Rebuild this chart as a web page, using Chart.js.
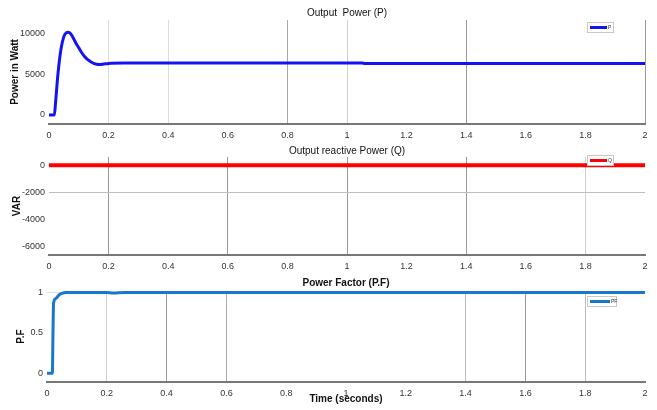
<!DOCTYPE html>
<html>
<head>
<meta charset="utf-8">
<script src="https://cdn.jsdelivr.net/npm/chart.js@4.4.1/dist/chart.umd.min.js"></script>
<style>
  body { margin: 0; background: #fff; width: 657px; height: 410px; position: relative; overflow: hidden; }
  .panel { position: absolute; left: 0; width: 657px; }
</style>
</head>
<body>
<div class="panel" style="top:0;height:142px"><canvas id="pChart"></canvas></div>
<div class="panel" style="top:142px;height:131px"><canvas id="qChart"></canvas></div>
<div class="panel" style="top:273px;height:137px"><canvas id="pfChart"></canvas></div>
<script>
// time axis (seconds)
const timeTicks = [0, 0.2, 0.4, 0.6, 0.8, 1, 1.2, 1.4, 1.6, 1.8, 2];

// output power P (W)
const timeP = [0, 0.018, 0.022, 0.03, 0.04, 0.05, 0.058, 0.065, 0.072, 0.08, 0.09, 0.1, 0.11,
  0.12, 0.13, 0.14, 0.15, 0.16, 0.17, 0.18, 0.2, 0.25, 1.05, 1.06, 2];
const powerP = [0, 0, 1500, 5000, 8000, 9600, 10050, 10100, 9950, 9500, 8800, 8200, 7600,
  7100, 6750, 6500, 6300, 6200, 6180, 6200, 6300, 6350, 6350, 6300, 6300];
const pTicks = [0, 5000, 10000];

// reactive power Q (VAR)
const timeQ = [0, 0.5, 1, 1.5, 2];
const reactiveQ = [0, 0, 0, 0, 0];
const qTicks = [-6000, -4000, -2000, 0];

// power factor
const timePF = [0, 0.018, 0.02, 0.022, 0.03, 0.04, 0.05, 0.065, 0.2, 0.22, 0.26, 2];
const powerFactor = [0, 0, 0.5, 0.87, 0.93, 0.97, 0.99, 1, 1, 0.995, 1, 1];
const pfTicks = [0, 0.5, 1];

const FONT = "'Liberation Sans', Arial, sans-serif";

// little legend box in the top right corner, like the scope legend
const boxLegend = {
  id: "boxLegend",
  afterDraw(chart, args, o) {
    const { ctx, chartArea } = chart;
    const ds = chart.data.datasets[0];
    const x = chartArea.right - o.dx;
    const y = chartArea.top + o.dy;
    ctx.save();
    ctx.fillStyle = "#fff";
    ctx.fillRect(x, y, o.w, 10);
    ctx.strokeStyle = "#c8c8c8";
    ctx.lineWidth = 1;
    ctx.strokeRect(x + 0.5, y + 0.5, o.w, 10);
    ctx.strokeStyle = ds.borderColor;
    ctx.lineWidth = 3;
    ctx.beginPath();
    ctx.moveTo(x + 3, y + 5.5);
    ctx.lineTo(x + o.w - 6, y + 5.5);
    ctx.stroke();
    ctx.fillStyle = "#333";
    ctx.font = "5px " + FONT;
    ctx.textBaseline = "middle";
    ctx.fillText(ds.label, x + o.w - 5, y + 6);
    ctx.restore();
  }
};

function gridColor(map) {
  return (c) => {
    if (!c.tick) return "rgba(0,0,0,0)";
    const key = (Math.round(c.tick.value * 10) / 10).toString();
    return map[key] || "rgba(0,0,0,0)";
  };
}

function makePanel(id, cfg) {
  return new Chart(document.getElementById(id), {
    type: "line",
    data: {
      datasets: [{
        label: cfg.label,
        data: cfg.xs.map((t, i) => ({ x: t, y: cfg.ys[i] })),
        borderColor: cfg.color,
        borderWidth: cfg.width,
        pointRadius: 0,
        cubicInterpolationMode: "monotone",
        fill: false
      }]
    },
    options: {
      responsive: true,
      maintainAspectRatio: false,
      animation: false,
      layout: { padding: { left: 0, right: 12, top: 0, bottom: 0 } },
      plugins: {
        legend: { display: false },
        tooltip: { enabled: false },
        title: {
          display: true,
          fullSize: false,
          text: cfg.title,
          color: "#111",
          font: { family: FONT, size: 10, weight: cfg.titleWeight },
          padding: cfg.titlePad
        },
        boxLegend: cfg.legend
      },
      scales: {
        x: {
          type: "linear",
          min: 0,
          max: 2,
          afterBuildTicks: (s) => { s.ticks = timeTicks.map(v => ({ value: v })); },
          afterFit: (s) => { s.height = cfg.xHeight; },
          ticks: {
            autoSkip: false,
            maxRotation: 0,
            padding: 6,
            color: "#333",
            font: { family: FONT, size: 9 },
            callback: (v) => String(Math.round(v * 10) / 10)
          },
          grid: { drawTicks: false, color: gridColor(cfg.xGrid), lineWidth: 1 },
          border: { display: true, color: "#777", width: 2 },
          title: cfg.xTitle || { display: false }
        },
        y: {
          min: cfg.min,
          max: cfg.max,
          afterBuildTicks: (s) => { s.ticks = cfg.ticks.map(v => ({ value: v })); },
          afterFit: (s) => { s.width = cfg.yWidth; },
          ticks: {
            padding: 4,
            color: "#333",
            font: { family: FONT, size: 9 },
            callback: (v) => String(v)
          },
          grid: { drawTicks: false, color: gridColor(cfg.yGrid), lineWidth: 1 },
          border: { display: false },
          title: {
            display: true,
            text: cfg.yTitle,
            color: "#111",
            font: { family: FONT, size: 10, weight: "bold" },
            padding: { top: cfg.yTitlePad, bottom: 0 }
          }
        }
      }
    },
    plugins: [boxLegend]
  });
}

makePanel("pChart", {
  label: "P", xs: timeP, ys: powerP, color: "#1414f2", width: 3,
  title: "Output  Power (P)", titleWeight: "normal", titlePad: { top: 7, bottom: 1 },
  min: -1100, max: 11600, ticks: pTicks, yTitle: "Power in Watt", yTitlePad: 9, yWidth: 49,
  xHeight: 18,
  xGrid: { "0.2": "#dcdcdc", "0.4": "#dcdcdc", "0.8": "#a8a8a8", "1": "#cfcfcf", "1.4": "#999", "2": "#999" },
  yGrid: {},
  legend: { dx: 58, dy: 2, w: 26 }
});

makePanel("qChart", {
  label: "Q", xs: timeQ, ys: reactiveQ, color: "#ff0000", width: 4,
  title: "Output reactive Power (Q)", titleWeight: "normal", titlePad: { top: 3, bottom: 0 },
  min: -6600, max: 600, ticks: qTicks, yTitle: "VAR", yTitlePad: 11, yWidth: 49,
  xHeight: 18,
  xGrid: { "0.2": "#999", "0.6": "#999", "1": "#999", "1.4": "#999", "1.8": "#cfcfcf" },
  yGrid: { "-2000": "#bdbdbd" },
  legend: { dx: 58, dy: -2, w: 26 }
});

makePanel("pfChart", {
  label: "PF", xs: timePF, ys: powerFactor, color: "#1a78cc", width: 3,
  title: "Power Factor (P.F)", titleWeight: "bold", titlePad: { top: 4, bottom: 2 },
  min: -0.11, max: 1.02, ticks: pfTicks, yTitle: "P.F", yTitlePad: 15, yWidth: 47,
  xHeight: 28,
  xGrid: { "0.2": "#cfcfcf", "0.4": "#999", "0.6": "#aaa", "1.4": "#bdbdbd", "1.6": "#999", "1.8": "#bdbdbd" },
  yGrid: { "1": "#dddddd" },
  legend: { dx: 58, dy: 5, w: 29 },
  xTitle: {
    display: true,
    text: "Time (seconds)",
    color: "#111",
    font: { family: FONT, size: 10, weight: "bold" },
    padding: { top: 0, bottom: 5 }
  }
});
</script>
</body>
</html>
